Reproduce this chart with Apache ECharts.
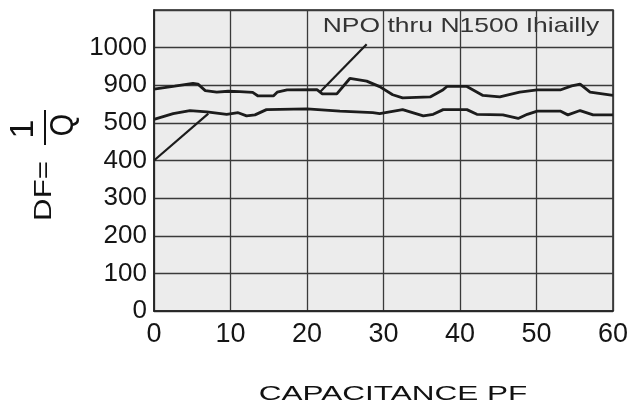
<!DOCTYPE html>
<html>
<head>
<meta charset="utf-8">
<script src="https://cdn.jsdelivr.net/npm/echarts@6/dist/echarts.min.js"></script>
<style>html,body{margin:0;padding:0;background:#fff;overflow:hidden}#c{width:635px;height:414px}</style>
</head>
<body>
<div id="c"></div>
<script>
// X axis ticks (capacitance, pF)
const xTicks = [0, 10, 20, 30, 40, 50, 60];
// Y axis tick labels (DF = 1/Q), drawn at evenly spaced grid lines
const yTickLabels = ['0', '100', '200', '300', '400', '500', '900', '1000'];
const yTickValues = [0, 100, 200, 300, 400, 500, 900, 1000, 1100];

// Upper curve
const upperX  = [0, 2.7, 5.1, 5.75, 6.7, 8.2, 9.7, 11.2, 12.9, 13.6, 15.6, 16.1, 17.4, 21.3, 22, 23.9, 25.6, 27.8, 29.5, 31.2, 32.5, 36.1, 37.8, 38.3, 40.9, 43, 45.2, 47.8, 50.1, 53.1, 54.6, 55.7, 57, 60];
const upperDF = [860, 890, 905, 903, 843, 826, 836, 832, 824, 786, 786, 826, 850, 853, 809, 809, 918, 911, 885, 799, 766, 776, 853, 887, 887, 792, 776, 826, 850, 850, 893, 903, 826, 792];

// Lower curve
const lowerX  = [0, 2.5, 4.7, 6.9, 9.5, 11, 12.1, 13.2, 14.7, 20, 24.3, 28.6, 29.5, 32.5, 35.2, 36.5, 37.8, 40.9, 42.2, 45.6, 47.6, 48.8, 50.1, 53.1, 54.1, 55.7, 57.4, 60];
const lowerDF = [538, 598, 631, 618, 591, 608, 575, 585, 641, 648, 625, 608, 598, 641, 575, 591, 641, 641, 591, 585, 547, 591, 625, 625, 585, 631, 585, 585];

// Leader lines
const leaderUpperX  = [27.8, 21.7];
const leaderUpperDF = [1009, 829];
const leaderLowerX  = [0, 7.1];
const leaderLowerDF = [400, 598];

const annotationText = 'NPO thru N1500 Ihiailly';
const xTitle = 'CAPACITANCE PF';

// map a DF value onto the evenly spaced grid-line slots
function slot(v) {
  for (let i = 0; i < yTickValues.length - 1; i++) {
    const a = yTickValues[i], b = yTickValues[i + 1];
    if (v <= b || i === yTickValues.length - 2) return i + (v - a) / (b - a);
  }
}
function pts(xs, ys) { return xs.map((x, i) => [x, slot(ys[i])]); }

const lineCol = '#1c1c1c';
const font = 'Liberation Sans, Arial, sans-serif';
const chart = echarts.init(document.getElementById('c'));
chart.setOption({
  animation: false,
  backgroundColor: '#ffffff',
  grid: { left: 154, right: 22, top: 10, bottom: 103, show: true, backgroundColor: '#ececec', borderColor: '#222', borderWidth: 1.5 },
  xAxis: {
    type: 'value', min: xTicks[0], max: xTicks[xTicks.length - 1], interval: 10,
    axisLine: { show: true, lineStyle: { color: '#222', width: 1.5 } },
    axisTick: { show: false },
    splitLine: { show: true, lineStyle: { color: '#3a3a3a', width: 1.3 } },
    axisLabel: { color: '#151515', fontSize: 27, fontFamily: font, margin: 10 }
  },
  yAxis: {
    type: 'value', min: 0, max: yTickValues.length - 1, interval: 1,
    axisLine: { show: true, lineStyle: { color: '#222', width: 1.5 } },
    axisTick: { show: false },
    splitLine: { show: true, lineStyle: { color: '#3a3a3a', width: 1.3 } },
    axisLabel: { color: '#151515', fontSize: 26, fontFamily: font, margin: 7, padding: [5, 0, 0, 0],
      formatter: v => { const s = yTickLabels[Math.round(v)]; return s === undefined ? '' : s; } }
  },
  series: [
    { type: 'line', data: pts(upperX, upperDF), showSymbol: false, lineStyle: { color: lineCol, width: 2.8 } },
    { type: 'line', data: pts(lowerX, lowerDF), showSymbol: false, lineStyle: { color: lineCol, width: 2.8 } },
    { type: 'line', data: pts(leaderUpperX, leaderUpperDF), showSymbol: false, lineStyle: { color: lineCol, width: 2.2 } },
    { type: 'line', data: pts(leaderLowerX, leaderLowerDF), showSymbol: false, lineStyle: { color: lineCol, width: 2.2 } }
  ],
  graphic: [
    { type: 'group', x: 461, y: 26, scaleX: 1.26, children: [
      { type: 'text', style: { text: annotationText, fill: '#333', font: '21px Liberation Sans, Arial, sans-serif', align: 'center', verticalAlign: 'middle' } }
    ] },
    { type: 'group', x: 393, y: 394, scaleX: 1.5, children: [
      { type: 'text', style: { text: xTitle, fill: '#111', font: '21px Liberation Sans, Arial, sans-serif', align: 'center', verticalAlign: 'middle' } }
    ] },
    { type: 'group', x: 44, y: 191, rotation: Math.PI / 2, children: [
      { type: 'text', scaleX: 1.3, style: { text: 'DF=', fill: '#111', font: '24px Liberation Sans, Arial, sans-serif', align: 'center', verticalAlign: 'middle' } }
    ] },
    { type: 'group', x: 24, y: 129, rotation: Math.PI / 2, children: [
      { type: 'text', style: { text: '1', fill: '#111', font: '34px Liberation Sans, Arial, sans-serif', align: 'center', verticalAlign: 'middle' } }
    ] },
    { type: 'line', shape: { x1: 45, y1: 110, x2: 45, y2: 145 }, style: { stroke: '#111', lineWidth: 2 } },
    { type: 'group', x: 64, y: 125, rotation: Math.PI / 2, children: [
      { type: 'text', scaleX: 0.85, style: { text: 'Q', fill: '#111', font: '34px Liberation Sans, Arial, sans-serif', align: 'center', verticalAlign: 'middle' } }
    ] }
  ]
});
</script>
</body>
</html>
